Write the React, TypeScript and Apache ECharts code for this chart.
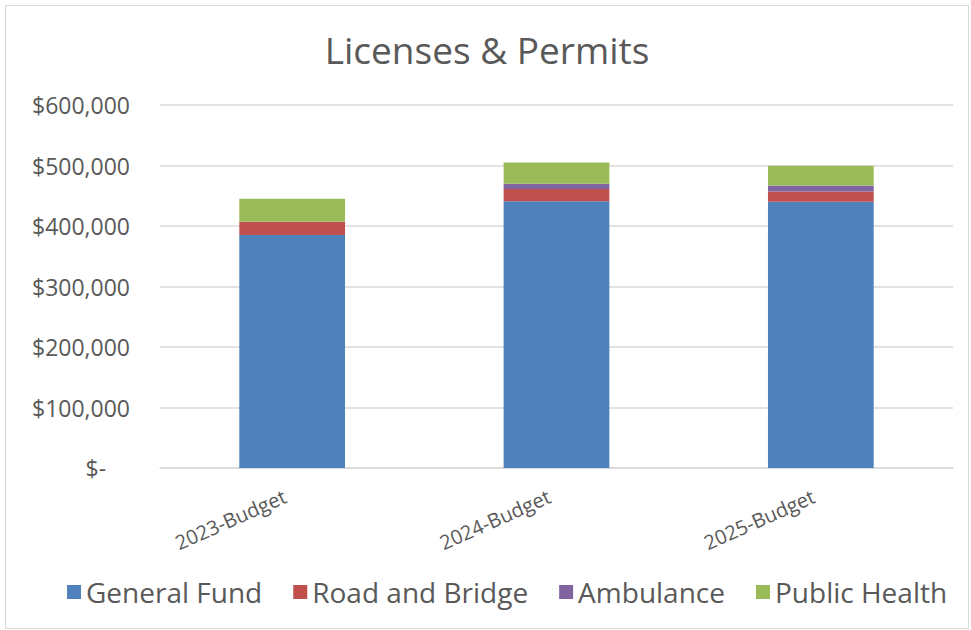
import React, { useEffect, useRef } from "react";
import * as echarts from "echarts";

const categories = ["2023-Budget", "2024-Budget", "2025-Budget"];
const generalFund = [385000, 441000, 440000];
const roadAndBridge = [22000, 20000, 17000];
const ambulance = [0, 9000, 10000];
const publicHealth = [38000, 35000, 32500];
const seriesNames = ["General Fund", "Road and Bridge", "Ambulance", "Public Health"];
const colors = ["#4f81bd", "#c0504d", "#8064a2", "#9bbb59"];

const FONT = "'Open Sans', 'DejaVu Sans', sans-serif";

export default function App() {
  const ref = useRef<HTMLDivElement>(null);
  useEffect(() => {
    if (!ref.current) return;
    const chart = echarts.init(ref.current, null, { renderer: "svg" });
    const data = [generalFund, roadAndBridge, ambulance, publicHealth];
    chart.setOption({
      animation: false,
      backgroundColor: "#ffffff",
      title: {
        text: "Licenses & Permits",
        left: "center",
        top: 20,
        textStyle: { fontFamily: FONT, fontSize: 37, fontWeight: "normal", color: "#595959" },
      },
      grid: { left: 154, right: 15, top: 99, bottom: 160 },
      legend: {
        bottom: 17,
        left: 56,
        itemWidth: 14,
        itemHeight: 14,
        itemGap: 31,
        icon: "rect",
        textStyle: { fontFamily: FONT, fontSize: 28, color: "#595959" },
        data: seriesNames,
      },
      xAxis: {
        type: "category",
        data: categories,
        axisLine: { lineStyle: { color: "#d9d9d9", width: 1.5 } },
        axisTick: { show: false },
        axisLabel: {
          rotate: 24,
          margin: 24,
          padding: [0, 8, 0, 0],
          fontFamily: FONT,
          fontSize: 20,
          color: "#595959",
        },
      },
      yAxis: {
        type: "value",
        min: 0,
        max: 600000,
        interval: 100000,
        axisLine: { show: false },
        axisTick: { show: false },
        splitLine: { lineStyle: { color: "#d9d9d9", width: 1.5 } },
        axisLabel: {
          margin: 30,
          fontFamily: FONT,
          fontSize: 23,
          color: "#595959",
          formatter: (v: number) => (v === 0 ? "$-    " : "$" + v.toLocaleString("en-US")),
        },
      },
      series: seriesNames.map((name, i) => ({
        name,
        type: "bar",
        stack: "total",
        barWidth: "40%",
        data: data[i],
        itemStyle: { color: colors[i] },
      })),
    });
    return () => chart.dispose();
  }, []);
  return (
    <div
      style={{
        position: "fixed",
        left: 0,
        top: 0,
        width: 971,
        height: 630,
        background: "#fff",
      }}
    >
      <div
        ref={ref}
        style={{
          position: "absolute",
          left: 5,
          top: 5,
          width: 962,
          height: 622,
          border: "1px solid #d9d9d9",
        }}
      />
    </div>
  );
}
